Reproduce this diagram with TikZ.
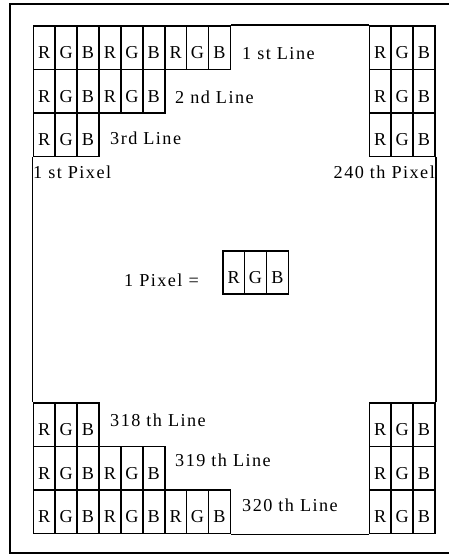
\documentclass[tikz,border=0pt]{standalone}
\usepackage{fontspec}
\setmainfont{Liberation Serif}
\newfontfamily\lblfont{Liberation Serif}[LetterSpace=8]
\begin{document}
\begin{tikzpicture}[x=1pt,y=-1pt,
  cell/.style={draw=black,line width=1.6pt,inner sep=0pt,minimum width=21.9pt,minimum height=43.5pt,
    text height=21.9pt,text depth=0pt,font=\fontsize{18.2}{20}\selectfont},
  lbl/.style={inner sep=0pt,font=\lblfont\fontsize{18.2}{20}\selectfont},
  frame/.style={draw=black,line width=1.6pt}]
\useasboundingbox (0,0) rectangle (448,554);
\fill[white] (0,0) rectangle (448,554);
% outer border (right side cut off by the picture edge)
\draw[line width=1.6pt] (452,4) -- (10,4) -- (10,553) -- (452,553);
% left cell rows
\foreach \r/\n/\y in {a/9/47.75, b/6/91.25, c/3/134.75, d/3/424.75, e/6/468.25, f/9/511.75} {
  \foreach \i in {1,...,\n} {
    \pgfmathsetmacro\xx{33.3+(\i-0.5)*21.9}
    \pgfmathtruncatemacro\k{mod(\i-1,3)}
    \node[cell] (\r\i) at (\xx,\y) {\ifcase\k R\or G\or B\fi};
  }
}
% right cell rows
\foreach \r/\y in {ra/47.75, rb/91.25, rc/134.75, rd/424.75, re/468.25, rf/511.75} {
  \foreach \i in {1,2,3} {
    \pgfmathsetmacro\xx{369.3+(\i-0.5)*21.9}
    \pgfmathtruncatemacro\k{mod(\i-1,3)}
    \node[cell] (\r\i) at (\xx,\y) {\ifcase\k R\or G\or B\fi};
  }
}
% inner frame
\draw[frame] (a9.north east) -- (ra1.north west);
\draw[frame] (c1.south west) -- (d1.north west);
\draw[frame] (rc3.south east) -- (rd3.north east);
\draw[frame] (f9.south east) -- (rf1.south west);
% middle pixel
\node[lbl,anchor=base west] (pixlbl) at (124,286) {1 Pixel =};
\foreach \i in {1,2,3} {
  \pgfmathsetmacro\xx{222.7+(\i-0.5)*21.9}
  \pgfmathtruncatemacro\k{mod(\i-1,3)}
  \node[cell] (m\i) at (\xx,272.5) {\ifcase\k R\or G\or B\fi};
}
% labels
\node[lbl,anchor=base west] (l1) at (242,59) {1 st Line};
\node[lbl,anchor=base west] (l2) at (175,103) {2 nd Line};
\node[lbl,anchor=base west] (l3) at (110,144) {3rd Line};
\node[lbl,anchor=base west] (p1) at (33,178) {1 st Pixel};
\node[lbl,anchor=base east] (p240) at (435,178) {240 th Pixel};
\node[lbl,anchor=base west] (l318) at (110,426) {318 th Line};
\node[lbl,anchor=base west] (l319) at (175,466) {319 th Line};
\node[lbl,anchor=base west] (l320) at (242,511) {320 th Line};
\end{tikzpicture}
\end{document}
